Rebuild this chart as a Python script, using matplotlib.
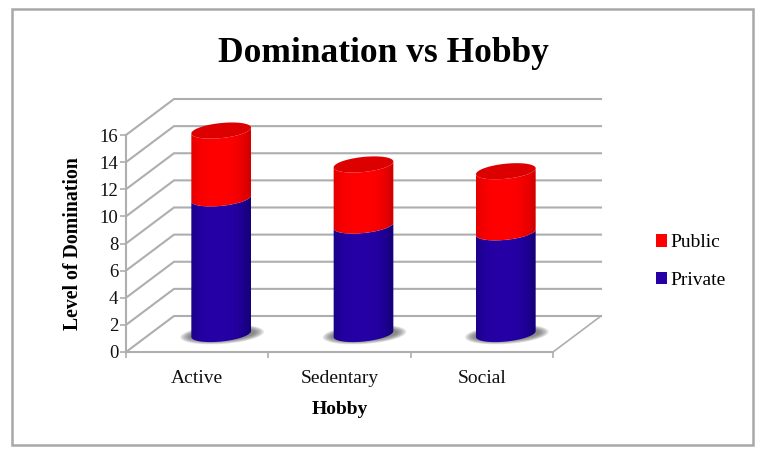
import matplotlib
matplotlib.use("Agg")
import matplotlib.pyplot as plt
import numpy as np
from matplotlib.patches import PathPatch, Patch, Rectangle
from matplotlib.path import Path

plt.rcParams["font.family"] = ["Liberation Serif", "DejaVu Serif"]

# Values
hobbies = ["Active", "Sedentary", "Social"]
private = [10, 8, 7.5]
public = [5, 4.5, 4.5]
y_ticks = list(range(0, 17, 2))

W, H = 763, 454
GRID = "#aeaeae"
BLUE_EDGE, BLUE_MID = "#16007c", "#2500a6"
RED_EDGE, RED_MID = "#d40000", "#ff0000"
RED_TOP = "#dc0000"

fig = plt.figure(figsize=(W / 100, H / 100), dpi=100, facecolor="white")

# Front plane of the fake 3D box
ax = fig.add_axes([126 / W, (H - 352) / H, (553 - 126) / W, (352 - 135) / H])
ax.set_facecolor("none")
ax.set_xlim(0, 3)
ax.set_ylim(0, 16)

# Pixel sizes turned into data units
px_x = 3 / (553 - 126)
px_y = 16 / (352 - 135)
depth_x = 48 * px_x
depth_y = 36 * px_y


def ellipse(cx, cy, a, b, tilt, t):
    # a, b, in pixels, tilt in degrees, returns data coords
    th = np.radians(tilt)
    dx = a * np.cos(t) * np.cos(th) - b * np.sin(t) * np.sin(th)
    dy = a * np.cos(t) * np.sin(th) + b * np.sin(t) * np.cos(th)
    return cx + dx * px_x, cy + dy * px_y


def cylinder_part(cx, y0, y1, edge, mid, z):
    # side of one stacked segment, gradient clipped to the outline
    t = np.linspace(np.pi, 2 * np.pi, 60)
    bx, by = ellipse(cx, y0, 30, 7.5, 6, t)
    tx, ty = ellipse(cx, y1, 30, 7.5, 6, t[::-1])
    verts = np.column_stack([np.r_[bx, tx], np.r_[by, ty]])
    path = Path(np.vstack([verts, verts[0]]), closed=True)
    c0 = np.array(matplotlib.colors.to_rgb(edge))
    c1 = np.array(matplotlib.colors.to_rgb(mid))
    u = np.linspace(-1, 1, 120)
    mix = np.clip(1 - np.abs(u + 0.1) ** 3, 0, 1)[:, None]
    img = (c0 + (c1 - c0) * mix)[None, :, :]
    im = ax.imshow(img, extent=[cx - 31 * px_x, cx + 31 * px_x, y0 - 10 * px_y, y1 + 10 * px_y],
                   aspect="auto", zorder=z, interpolation="bilinear")
    patch = PathPatch(path, transform=ax.transData, fc="none", ec="none")
    im.set_clip_path(patch)
    im.set_clip_box(fig.bbox)


# Walls and floor
for v in y_ticks:
    ax.plot([0, depth_x, 3 + depth_x], [v, v + depth_y, v + depth_y], color=GRID, lw=1.5,
            clip_on=False, zorder=1, solid_joinstyle="miter")
ax.plot([3, 3 + depth_x], [0, depth_y], color=GRID, lw=1.2, clip_on=False, zorder=1)

# Cylinders
base = depth_y / 2
for i, hobby in enumerate(hobbies):
    cx = i + 0.5 + depth_x / 2
    # soft floor shadow
    t = np.linspace(0, 2 * np.pi, 80)
    for k in range(8):
        sx, sy = ellipse(cx + 1 * px_x, base - 0.5 * px_y, 42 - k * 1.3, 9.5 - k * 0.5, 4, t)
        ax.fill(sx, sy, color="#555555", alpha=0.13, lw=0, zorder=2, clip_on=False)
    top_private = base + private[i]
    top_public = top_private + public[i]
    cylinder_part(cx, base, top_private, BLUE_EDGE, BLUE_MID, 3)
    cylinder_part(cx, top_private, top_public, RED_EDGE, RED_MID, 4)
    ex, ey = ellipse(cx, top_public, 30, 7.5, 6, t)
    ax.fill(ex, ey, color=RED_TOP, lw=0, zorder=5, clip_on=False)

# Axes
ax.set_xlim(0, 3)
ax.set_ylim(0, 16)
for side in ["top", "right"]:
    ax.spines[side].set_visible(False)
for side in ["left", "bottom"]:
    ax.spines[side].set_color(GRID)
    ax.spines[side].set_linewidth(1.5)
ax.set_yticks(y_ticks)
ax.set_xticks([0, 1, 2, 3])
ax.set_xticklabels([])
ax.set_xticks([0.5, 1.5, 2.5], minor=True)
ax.set_xticklabels(hobbies, minor=True, fontsize=14, color="#111111")
ax.tick_params(axis="x", which="major", length=4, width=1.2, color=GRID)
ax.tick_params(axis="x", which="minor", length=0, pad=13)
ax.tick_params(axis="y", length=4, width=1.2, color=GRID, labelsize=13.5, pad=1.5, labelcolor="#111111")
ax.set_xlabel("Hobby", fontsize=14, fontweight="bold", labelpad=10)
ax.set_ylabel("Level of Domination", fontsize=14.2, fontweight="bold", labelpad=12)

handles = [Patch(fc="#ff0000", ec="none", label="Public"), Patch(fc=BLUE_MID, ec="none", label="Private")]
fig.legend(handles=handles, loc="center left", bbox_to_anchor=(656 / W, (H - 261.5) / H), frameon=False,
           fontsize=14, handlelength=0.55, handleheight=0.6, handletextpad=0.2, labelspacing=1.05,
           borderpad=0, borderaxespad=0)

fig.text(383 / W, (H - 53) / H, "Domination vs Hobby", ha="center", va="center", fontsize=25.5, fontweight="bold")

# Outer chart frame
fig.add_artist(Rectangle((12 / W, (H - 445) / H), (753 - 12) / W, (445 - 9) / H, transform=fig.transFigure,
                         fc="none", ec="#a8a8a8", lw=1.8))

fig.savefig("out.png", dpi=100)
